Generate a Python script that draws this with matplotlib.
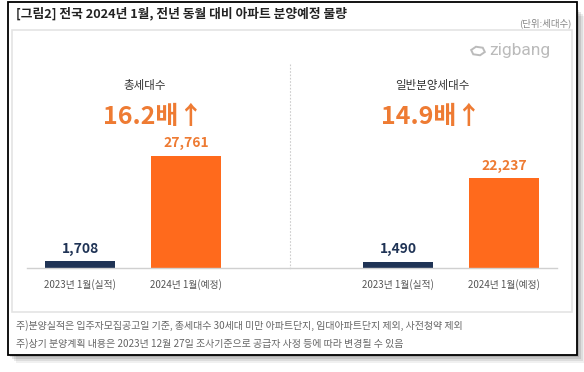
import matplotlib
matplotlib.use("Agg")
import matplotlib.pyplot as plt
from matplotlib.patches import Rectangle, RegularPolygon

plt.rcParams["font.family"] = ["Noto Sans CJK KR", "DejaVu Sans"]

# figure size in pixels
W_PX, H_PX = 584, 372
DPI = 100

# data
categories = ["2023년 1월(실적)", "2024년 1월(예정)"]
total_units = [1708, 27761]
general_units = [1490, 22237]
panel_titles = ["총세대수", "일반분양세대수"]
ratio_labels = ["16.2배", "14.9배"]

title = "[그림2] 전국 2024년 1월, 전년 동월 대비 아파트 분양예정 물량"
unit_note = "(단위:세대수)"
notes = [
    "주)분양실적은 입주자모집공고일 기준, 총세대수 30세대 미만 아파트단지, 임대아파트단지 제외, 사전청약 제외",
    "주)상기 분양계획 내용은 2023년 12월 27일 조사기준으로 공급자 사정 등에 따라 변경될 수 있음",
]

NAVY = "#1f3355"
ORANGE = "#ff6a1c"
ORANGE_TXT = "#ee7b33"
GRAY_TXT = "#555555"


def fx(x):
    return x / W_PX


def fy(y):
    return 1 - y / H_PX


def ax_rect(x0, y0, x1, y1):
    # pixel box (top-left origin) -> figure fraction rect
    return [fx(x0), fy(y1), fx(x1) - fx(x0), fy(y0) - fy(y1)]


fig = plt.figure(figsize=(W_PX / DPI, H_PX / DPI), dpi=DPI)
fig.patch.set_facecolor("white")

# drop shadow + outer frame
for i, a in enumerate([0.06, 0.08, 0.1, 0.12]):
    off = 8 - i * 2
    fig.patches.append(Rectangle((fx(8 + off), fy(355 + off)), fx(569), 347 / H_PX,
                                 transform=fig.transFigure, facecolor="black",
                                 alpha=a, edgecolor="none", zorder=0))
fig.patches.append(Rectangle((fx(8), fy(355)), fx(569), 353 / H_PX,
                             transform=fig.transFigure, facecolor="white",
                             edgecolor="black", linewidth=1.3, zorder=1))
# inner panel
fig.patches.append(Rectangle((fx(12), fy(312)), fx(560), 282 / H_PX,
                             transform=fig.transFigure, facecolor="white",
                             edgecolor="#e4e4e4", linewidth=1.2, zorder=2))

fig.text(fx(16), fy(14), title, fontsize=9.2, fontweight="bold",
         color="#222222", va="center", ha="left", zorder=5)
fig.text(fx(571), fy(23), unit_note, fontsize=6.8, color="#888888",
         va="center", ha="right", zorder=5)

# zigbang logo
fig.patches.append(RegularPolygon((fx(478), fy(51)), numVertices=6, radius=0.012,
                                  orientation=0.3, transform=fig.transFigure,
                                  facecolor="none", edgecolor="#bbbbbb",
                                  linewidth=1.4, zorder=5))
fig.text(fx(489), fy(50), "zigbang", fontsize=12.5, color="#bbbbbb",
         va="center", ha="left", family="Roboto", zorder=5)

# bar axes: baseline at y=268 px, bar pitch 106 px, width 70 px
BASE_Y = 268
SCALE_TOP = 60
ymax = max(total_units) * (BASE_Y - SCALE_TOP) / 112


def frac_y(ypx):
    return (BASE_Y - ypx) / (BASE_Y - SCALE_TOP)


panels = [
    (total_units, ax_rect(27, SCALE_TOP, 290, BASE_Y), (-0.5, 1.981), 27, 263),
    (general_units, ax_rect(290, SCALE_TOP, 557, BASE_Y), (-1.019, 1.5), 290, 267),
]
title_cx = [145, 432]
ratio_cx = [153, 431]

for k, (vals, rect, xl, x0, w) in enumerate(panels):
    ax = fig.add_axes(rect, zorder=4)
    ax.set_facecolor("none")
    ax.bar([0, 1], vals, width=0.66, color=[NAVY, ORANGE])
    ax.set_xlim(*xl)
    ax.set_ylim(0, ymax)
    for s in ["top", "right", "left"]:
        ax.spines[s].set_visible(False)
    ax.spines["bottom"].set_color("#d0d0d0")
    ax.spines["bottom"].set_linewidth(1.0)
    ax.set_yticks([])
    ax.set_xticks([0, 1])
    ax.set_xticklabels(categories, fontsize=7, color=GRAY_TXT)
    ax.tick_params(axis="x", length=0, pad=8)
    txt_cols = [NAVY, ORANGE_TXT]
    for i, v in enumerate(vals):
        ax.annotate(f"{v:,}", (i, v), xytext=(0, 4), textcoords="offset points",
                    ha="center", va="bottom", fontsize=10, fontweight="bold",
                    color=txt_cols[i])
    ax.text((title_cx[k] - x0) / w, frac_y(85), panel_titles[k],
            transform=ax.transAxes, ha="center", va="center",
            fontsize=8.3, color="#333333")
    ax.text((ratio_cx[k] - x0) / w, frac_y(117), ratio_labels[k] + "↑",
            transform=ax.transAxes, ha="center", va="center",
            fontsize=18, fontweight="bold", color=ORANGE_TXT)

# dashed separator between panels
fig.add_artist(plt.Line2D([fx(290), fx(290)], [fy(64), fy(268)],
                          transform=fig.transFigure, color="#cccccc",
                          linewidth=0.8, linestyle=(0, (1.5, 1.5)), zorder=3))

for j, line in enumerate(notes):
    fig.text(fx(16), fy(326 + j * 18), line, fontsize=7.2, color="#666666",
             va="center", ha="left", zorder=5)

fig.savefig("out.png", dpi=DPI)
